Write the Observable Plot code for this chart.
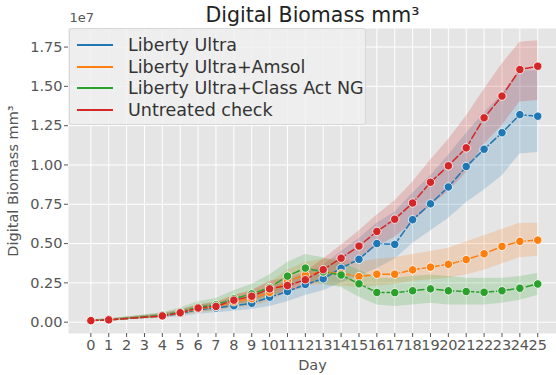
<!DOCTYPE html>
<html>
<head>
<meta charset="utf-8">
<script src="https://cdn.jsdelivr.net/npm/d3@7"></script>
<script src="https://cdn.jsdelivr.net/npm/@observablehq/plot@0.6"></script>
<style>
  html, body { margin: 0; padding: 0; background: #fff; }
  #wrap { position: relative; width: 556px; height: 375px; font-family: "DejaVu Sans", sans-serif; }
  #legend { position: absolute; left: 69px; top: 28px; width: 297px; height: 97px; box-sizing: border-box;
    background: rgba(240,240,240,0.85); border: 1px solid #d8d8d8; border-radius: 3px; }
  .item { position: absolute; left: 7px; height: 22px; display: flex; align-items: center; font-size: 17.5px; color: #333; white-space: nowrap; }
  .swatch { width: 36px; height: 2px; margin-right: 15px; }
</style>
</head>
<body>
<div id="wrap"><div id="legend"></div></div>
<script>
// Values in units of 1e7 mm³
const days = [0, 1, 4, 5, 6, 7, 8, 9, 10, 11, 12, 13, 14, 15, 16, 17, 18, 19, 20, 21, 22, 23, 24, 25];
const seriesNames = ["Liberty Ultra", "Liberty Ultra+Amsol", "Liberty Ultra+Class Act NG", "Untreated check"];
const seriesColors = ["#1f77b4", "#ff7f0e", "#2ca02c", "#d62728"];

const ultraMean = [0.010, 0.015, 0.040, 0.055, 0.080, 0.090, 0.105, 0.120, 0.159, 0.195, 0.240, 0.276, 0.343, 0.400, 0.500, 0.495, 0.652, 0.753, 0.860, 0.990, 1.100, 1.205, 1.320, 1.310];
const ultraLo   = [0.005, 0.010, 0.025, 0.035, 0.050, 0.060, 0.070, 0.080, 0.100, 0.130, 0.170, 0.200, 0.250, 0.290, 0.340, 0.400, 0.500, 0.580, 0.660, 0.760, 0.840, 0.930, 1.070, 1.080];
const ultraHi   = [0.015, 0.020, 0.055, 0.075, 0.110, 0.125, 0.145, 0.165, 0.220, 0.260, 0.310, 0.360, 0.450, 0.530, 0.630, 0.700, 0.820, 0.930, 1.060, 1.200, 1.330, 1.450, 1.600, 1.600];

const amsolMean = [0.010, 0.015, 0.040, 0.060, 0.085, 0.100, 0.130, 0.150, 0.190, 0.260, 0.300, 0.320, 0.310, 0.290, 0.305, 0.305, 0.333, 0.350, 0.368, 0.398, 0.435, 0.482, 0.514, 0.522];
const amsolLo   = [0.005, 0.010, 0.030, 0.045, 0.060, 0.070, 0.090, 0.100, 0.130, 0.190, 0.230, 0.240, 0.230, 0.220, 0.230, 0.240, 0.260, 0.270, 0.280, 0.300, 0.330, 0.370, 0.410, 0.420];
const amsolHi   = [0.015, 0.020, 0.055, 0.080, 0.110, 0.130, 0.170, 0.200, 0.250, 0.330, 0.380, 0.400, 0.400, 0.380, 0.400, 0.410, 0.430, 0.450, 0.470, 0.510, 0.550, 0.590, 0.630, 0.630];

const classActMean = [0.010, 0.015, 0.045, 0.065, 0.095, 0.110, 0.150, 0.180, 0.220, 0.293, 0.344, 0.320, 0.300, 0.244, 0.189, 0.188, 0.200, 0.212, 0.200, 0.195, 0.190, 0.200, 0.216, 0.243];
const classActLo   = [0.005, 0.010, 0.030, 0.045, 0.065, 0.075, 0.100, 0.120, 0.150, 0.210, 0.260, 0.240, 0.220, 0.160, 0.110, 0.100, 0.110, 0.120, 0.110, 0.110, 0.110, 0.120, 0.140, 0.170];
const classActHi   = [0.015, 0.020, 0.060, 0.090, 0.130, 0.150, 0.200, 0.240, 0.300, 0.380, 0.430, 0.410, 0.380, 0.330, 0.280, 0.280, 0.290, 0.300, 0.290, 0.280, 0.280, 0.280, 0.290, 0.310];

const checkMean = [0.010, 0.015, 0.040, 0.060, 0.090, 0.100, 0.140, 0.165, 0.212, 0.233, 0.270, 0.334, 0.407, 0.484, 0.577, 0.655, 0.758, 0.890, 0.995, 1.109, 1.300, 1.438, 1.607, 1.628];
const checkLo   = [0.005, 0.010, 0.030, 0.045, 0.070, 0.080, 0.110, 0.130, 0.170, 0.190, 0.220, 0.270, 0.330, 0.400, 0.480, 0.540, 0.630, 0.740, 0.830, 0.950, 1.130, 1.250, 1.400, 1.410];
const checkHi   = [0.015, 0.020, 0.050, 0.075, 0.110, 0.120, 0.170, 0.200, 0.260, 0.280, 0.320, 0.400, 0.490, 0.580, 0.680, 0.770, 0.890, 1.030, 1.160, 1.310, 1.480, 1.640, 1.780, 1.790];

const xTicks = [0,1,2,3,4,5,6,7,8,9,10,11,12,13,14,15,16,17,18,19,20,21,22,23,24,25];
const yTicks = [0, 0.25, 0.5, 0.75, 1.0, 1.25, 1.5, 1.75];

const means = [ultraMean, amsolMean, classActMean, checkMean];
const los = [ultraLo, amsolLo, classActLo, checkLo];
const his = [ultraHi, amsolHi, classActHi, checkHi];

const rows = seriesNames.map((name, s) => days.map((d, i) => ({day: d, v: means[s][i], lo: los[s][i], hi: his[s][i], name})));

const font = "DejaVu Sans, sans-serif";
const marks = [
  Plot.frame({fill: "#e5e5e5", stroke: "none"}),
  Plot.gridX(xTicks, {stroke: "#ffffff", strokeOpacity: 1, strokeWidth: 1}),
  Plot.gridY(yTicks, {stroke: "#ffffff", strokeOpacity: 1, strokeWidth: 1}),
];
rows.forEach((r, s) => marks.push(Plot.areaY(r, {x: "day", y1: "lo", y2: "hi", fill: seriesColors[s], fillOpacity: 0.2})));
rows.forEach((r, s) => {
  marks.push(Plot.lineY(r, {x: "day", y: "v", stroke: seriesColors[s], strokeWidth: 1.5, strokeDasharray: "7,3"}));
  marks.push(Plot.dot(r, {x: "day", y: "v", r: 4.2, fill: seriesColors[s], stroke: "#ffffff", strokeWidth: 0.8}));
});
marks.push(
  Plot.axisX(xTicks, {tickSize: 4, tickPadding: 2, stroke: "#555", fontSize: 14.5, fill: "#555", label: null, tickFormat: d => String(d)}),
  Plot.axisY(yTicks, {tickSize: 4, tickPadding: 2, stroke: "#555", fontSize: 14.5, fill: "#555", label: null, tickFormat: d3.format(".2f")}),
  Plot.text(["Digital Biomass mm³"], {frameAnchor: "top", lineAnchor: "middle", dy: -13, fontSize: 20.5, fill: "#222"}),
  Plot.text(["1e7"], {frameAnchor: "top-left", lineAnchor: "middle", textAnchor: "start", dx: 1, dy: -11, fontSize: 13, fill: "#555"}),
  Plot.text(["Day"], {frameAnchor: "bottom", lineAnchor: "middle", dy: 32, fontSize: 14.5, fill: "#555"}),
  Plot.text(["Digital Biomass mm³"], {frameAnchor: "left", textAnchor: "middle", lineAnchor: "middle", dx: -55, rotate: -90, fontSize: 14.5, fill: "#555"})
);

const chart = Plot.plot({
  width: 556, height: 375,
  marginLeft: 68, marginRight: 0, marginTop: 28, marginBottom: 42,
  x: {domain: [-1.25, 26.05]},
  y: {domain: [-0.072, 1.868]},
  style: {fontFamily: font, background: "transparent", overflow: "visible"},
  marks
});
document.getElementById("wrap").prepend(chart);

const legend = document.getElementById("legend");
const rowTops = [5, 27, 48, 70];
seriesNames.forEach((name, i) => {
  const it = document.createElement("div");
  it.className = "item";
  it.style.top = rowTops[i] + "px";
  const sw = document.createElement("span");
  sw.className = "swatch";
  sw.style.background = seriesColors[i];
  const tx = document.createElement("span");
  tx.textContent = name;
  it.appendChild(sw); it.appendChild(tx);
  legend.appendChild(it);
});
</script>
</body>
</html>
